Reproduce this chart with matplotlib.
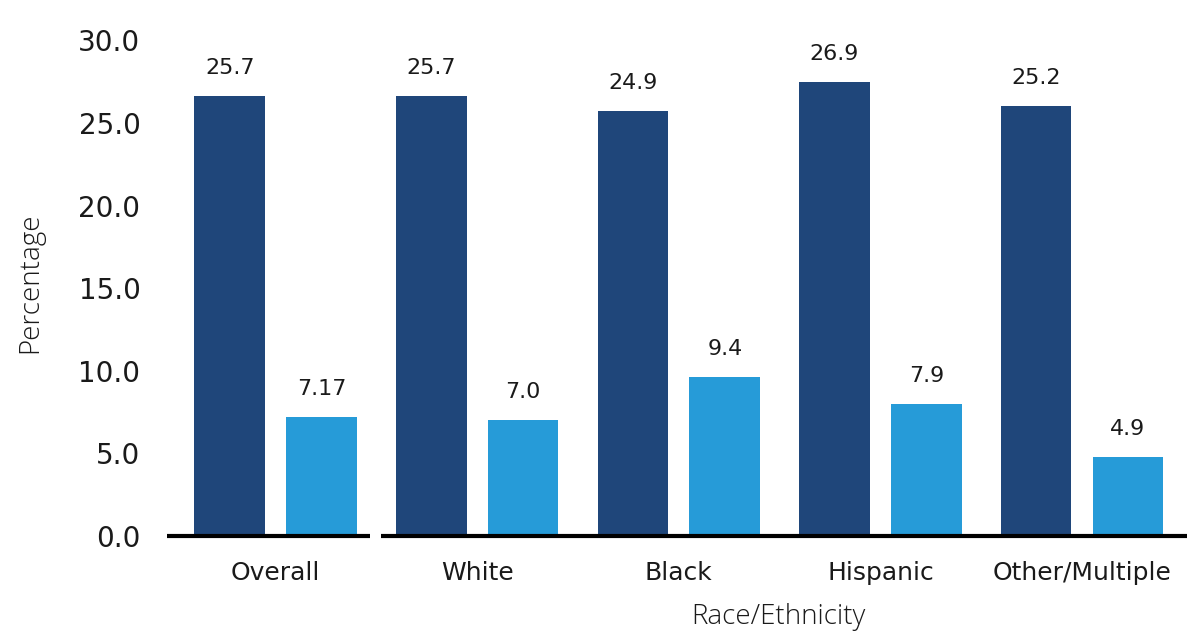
import numpy as np
import matplotlib.pyplot as plt

# race / ethnicity groups
groups = ['Overall', 'White', 'Black', 'Hispanic', 'Other/Multiple']

# bar heights as drawn in the picture
dark_heights = [26.6, 26.6, 25.7, 27.5, 26.0]
light_heights = [7.2, 7.0, 9.6, 8.0, 4.8]

# value labels printed above the bars
dark_labels = ['25.7', '25.7', '24.9', '26.9', '25.2']
light_labels = ['7.17', '7.0', '9.4', '7.9', '4.9']

yticks = [0, 5, 10, 15, 20, 25, 30]

plt.rcParams['font.family'] = ['DejaVu Sans']

dark = '#1F467A'
light = '#269BD8'
txt = '#1a1a1a'

fig = plt.figure(figsize=(12, 6.39), dpi=100)
ax = fig.add_axes([0.139, 0.161, 0.85, 0.776])

x = np.arange(len(groups))
w = 0.35
off = 0.228
b1 = ax.bar(x - off, dark_heights, w, color=dark)
b2 = ax.bar(x + off, light_heights, w, color=light)

for bars, labs in [(b1, dark_labels), (b2, light_labels)]:
    for b, lab in zip(bars, labs):
        ax.annotate(lab, (b.get_x() + b.get_width() / 2, b.get_height()),
                    xytext=(0, 13), textcoords='offset points',
                    ha='center', va='bottom', fontsize=16, color=txt)

ax.set_xlim(-0.54, 4.52)
ax.set_ylim(0, 30)
for s in ax.spines.values():
    s.set_visible(False)

# x axis line, broken after the first group
ax.plot([-0.54, 0.47], [0, 0], color='black', lw=3, clip_on=False, solid_capstyle='butt')
ax.plot([0.525, 4.52], [0, 0], color='black', lw=3, clip_on=False, solid_capstyle='butt')

ax.set_yticks(yticks)
ax.set_yticklabels(['%.1f' % t for t in yticks], fontsize=20, color=txt)
ax.set_xticks(x)
ax.set_xticklabels(groups, fontsize=18, color=txt)
ax.tick_params(axis='y', length=0, pad=19)
ax.tick_params(axis='x', length=0, pad=18)

ax.set_ylabel('Percentage', fontsize=20, fontfamily=['Open Sans', 'DejaVu Sans'],
              fontweight='light', color='#1a1a1a', va='center')
ax.set_xlabel('Race/Ethnicity', fontsize=20, fontfamily=['Open Sans', 'DejaVu Sans'],
              fontweight='light', color='#1a1a1a', va='center')
ax.yaxis.set_label_coords(-0.134, 0.51)
ax.xaxis.set_label_coords(0.6, -0.163)

fig.savefig('out.png', dpi=100)
